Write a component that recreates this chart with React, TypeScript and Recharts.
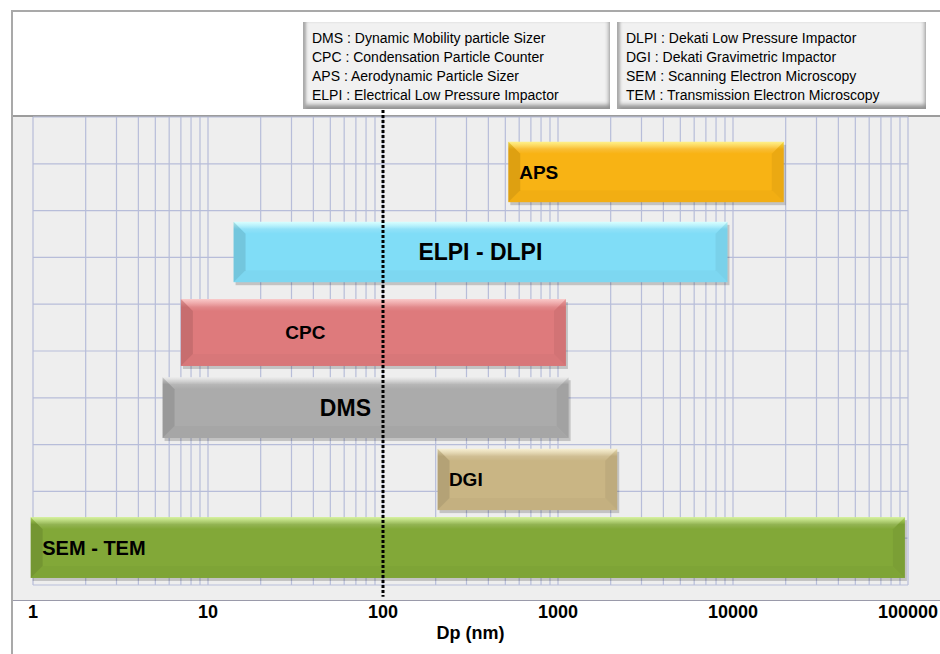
import React from 'react';
import {
  ComposedChart,
  XAxis,
  YAxis,
  CartesianGrid,
  ReferenceArea,
  ReferenceLine,
  Scatter,
} from 'recharts';

// instruments, size range (nm) and row band (in grid units, 0..10)
const instruments = ['APS', 'ELPI - DLPI', 'CPC', 'DMS', 'DGI', 'SEM - TEM'];
const sizeMin = [520, 14, 7, 5.5, 205, 0.97];
const sizeMax = [19500, 9300, 1110, 1150, 2180, 96000];
const rowTop = [9.47, 7.76, 6.11, 4.44, 2.91, 1.45];
const rowBottom = [8.18, 6.47, 4.68, 3.14, 1.6, 0.15];

// where each bar label sits (nm) and how it is anchored
const labelAt = [600, 360, 36, 61, 238, 1.13];
const labelAnchor = ['start', 'middle', 'middle', 'middle', 'start', 'start'];
const labelSize = [19, 23, 19, 23, 19, 20];

const barBase = ['#F8B314', '#80DDF7', '#DE7A7C', '#ABABAB', '#C9B584', '#82A838'];
const barLight = ['#FFE84A', '#C4FFFF', '#F7AAAA', '#E2E2E2', '#F2E6BA', '#C0EA6A'];

const decades = [1, 10, 100, 1000, 10000, 100000];
const minorSteps = [1, 2, 3, 4, 5, 6, 7, 8, 9];
const rowLines = [0, 1, 2, 3, 4, 5, 6, 7, 8, 9, 10];

const legendLeft = [
  'DMS : Dynamic Mobility particle Sizer',
  'CPC : Condensation Particle Counter',
  'APS : Aerodynamic Particle Sizer',
  'ELPI : Electrical Low Pressure Impactor',
];
const legendRight = [
  'DLPI : Dekati Low Pressure Impactor',
  'DGI : Dekati Gravimetric Impactor',
  'SEM : Scanning Electron Microscopy',
  'TEM : Transmission Electron Microscopy',
];

const gridTicks = decades
  .slice(0, -1)
  .flatMap((d) => minorSteps.map((m) => d * m))
  .concat([decades[decades.length - 1]]);

const labelData = instruments.map((name, i) => ({
  x: labelAt[i],
  y: (rowTop[i] + rowBottom[i]) / 2,
  name,
  anchor: labelAnchor[i],
  size: labelSize[i],
}));

const sans = "'Liberation Sans', Arial, sans-serif";

const BevelBar = (props: any) => {
  const { x, y, width: w, height: h, idx } = props;
  const b = 12;
  const gid = `bar-grad-${idx}`;
  const hid = `bar-hi-${idx}`;
  return (
    <g>
      <defs>
        <linearGradient id={gid} x1="0" y1="0" x2="0" y2="1">
          <stop offset="0%" stopColor={barLight[idx]} />
          <stop offset="12%" stopColor={barBase[idx]} />
          <stop offset="100%" stopColor={barBase[idx]} />
        </linearGradient>
        <linearGradient id={hid} x1="0" y1="0" x2="0" y2="1">
          <stop offset="0%" stopColor="#ffffff" stopOpacity={0.35} />
          <stop offset="100%" stopColor="#ffffff" stopOpacity={0} />
        </linearGradient>
      </defs>
      <rect x={x + 2} y={y + 3} width={w} height={h} fill="rgba(0,0,0,0.18)" />
      <rect x={x} y={y} width={w} height={h} fill={`url(#${gid})`} />
      <polygon
        points={`${x},${y} ${x + w},${y} ${x + w - b},${y + b} ${x + b},${y + b}`}
        fill={`url(#${hid})`}
      />
      <polygon
        points={`${x},${y} ${x + b},${y + b} ${x + b},${y + h - b} ${x},${y + h}`}
        fill="rgba(0,0,0,0.1)"
      />
      <polygon
        points={`${x + w},${y} ${x + w - b},${y + b} ${x + w - b},${y + h - b} ${x + w},${y + h}`}
        fill="rgba(0,0,0,0.05)"
      />
      <polygon
        points={`${x},${y + h} ${x + b},${y + h - b} ${x + w - b},${y + h - b} ${x + w},${y + h}`}
        fill="rgba(0,0,0,0.025)"
      />
    </g>
  );
};

const BarLabel = (props: any) => {
  const { cx, cy, payload } = props;
  return (
    <text
      x={cx}
      y={cy}
      dy="0.36em"
      textAnchor={payload.anchor}
      fontFamily={sans}
      fontWeight="bold"
      fontSize={payload.size}
      fill="#000"
    >
      {payload.name}
    </text>
  );
};

const DecadeTick = (props: any) => {
  const { x, y, payload } = props;
  if (!decades.includes(payload.value)) return null;
  return (
    <text x={x} y={y} dy={25} textAnchor="middle" fontFamily={sans} fontWeight="bold" fontSize={18} fill="#000">
      {payload.value}
    </text>
  );
};

const AxisTitle = (props: any) => {
  const { viewBox } = props;
  return (
    <text
      x={viewBox.x + viewBox.width / 2}
      y={viewBox.y + 54}
      textAnchor="middle"
      fontFamily={sans}
      fontWeight="bold"
      fontSize={18}
      fill="#000"
    >
      Dp (nm)
    </text>
  );
};

const LegendBox = ({ lines, left, width }: { lines: string[]; left: number; width: number }) => (
  <div
    style={{
      position: 'absolute',
      left,
      top: 22,
      width,
      height: 87,
      boxSizing: 'border-box',
      background: '#f1f1f1',
      boxShadow: 'inset 4px 0 3px -1px #a8a8a8, inset -2px -5px 4px -1px #8f8f8f',
      padding: '7px 0 0 9px',
      fontFamily: sans,
      fontSize: 14,
      lineHeight: '19px',
      color: '#000',
      whiteSpace: 'nowrap',
    }}
  >
    {lines.map((t) => (
      <div key={t}>{t}</div>
    ))}
  </div>
);

export default function App() {
  return (
    <div style={{ position: 'absolute', left: 0, top: 0, width: 940, height: 654, background: '#fff', overflow: 'hidden' }}>
      {/* frame and plot background */}
      <div
        style={{
          position: 'absolute',
          left: 11,
          top: 10,
          width: 940,
          height: 700,
          borderTop: '2px solid #a9a9a9',
          borderLeft: '2px solid #a9a9a9',
        }}
      />
      <div
        style={{
          position: 'absolute',
          left: 13,
          top: 115,
          width: 930,
          height: 483,
          background: '#eeeeee',
          borderTop: '2px solid #9c9c9c',
          borderBottom: '1px solid #9a9aaa',
        }}
      />
      <div style={{ position: 'absolute', left: 0, top: 0 }}>
        <ComposedChart
          width={940}
          height={654}
          margin={{ top: 117, right: 32, bottom: 0, left: 33 }}
        >
          <CartesianGrid stroke="#b7bdd9" strokeWidth={1.2} fill="none" />
          <XAxis
            dataKey="x"
            type="number"
            scale="log"
            domain={[1, 100000]}
            ticks={gridTicks}
            interval={0}
            allowDataOverflow
            axisLine={false}
            tickLine={false}
            tick={<DecadeTick />}
            height={69}
            label={<AxisTitle />}
          />
          <YAxis type="number" domain={[0, 10]} ticks={rowLines} hide />
          {instruments.map((name, i) => (
            <ReferenceArea
              key={name}
              x1={sizeMin[i]}
              x2={sizeMax[i]}
              y1={rowBottom[i]}
              y2={rowTop[i]}
              ifOverflow="visible"
              shape={(p: any) => <BevelBar {...p} idx={i} />}
            />
          ))}
          <ReferenceLine
            segment={[
              { x: 100, y: 10.15 },
              { x: 100, y: -0.25 },
            ]}
            stroke="#000"
            strokeWidth={3}
            strokeDasharray="3 2"
            ifOverflow="visible"
          />
          <Scatter data={labelData} dataKey="y" shape={<BarLabel />} isAnimationActive={false} />
        </ComposedChart>
      </div>
      <LegendBox lines={legendLeft} left={303} width={307} />
      <LegendBox lines={legendRight} left={617} width={309} />
    </div>
  );
}
